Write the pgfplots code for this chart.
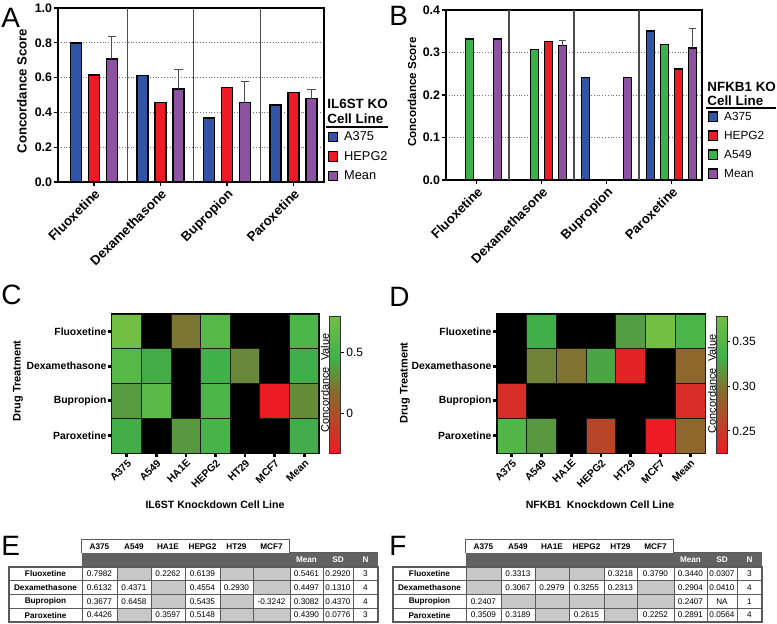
\documentclass[border=0pt]{standalone}
\usepackage{fontspec}
\setmainfont{Liberation Sans}
\usepackage{pgfplots}
\pgfplotsset{compat=1.18}

\definecolor{cblue}{RGB}{50,84,164}
\definecolor{cred}{RGB}{237,28,36}
\definecolor{cgreen}{RGB}{58,178,74}
\definecolor{cpurple}{RGB}{142,82,162}
\definecolor{band}{RGB}{98,98,98}
\definecolor{cellgray}{RGB}{200,200,200}
\definecolor{tline}{RGB}{90,90,90}

\newcommand\fs[1]{\fontsize{#1}{#1}\selectfont}
\newcommand\tabbf{\bfseries\fs{4.1bp}}
\newcommand\tabrm{\fs{4.1bp}}

\pgfdeclareplotmark{cellC}{\pgfpathrectangle{\pgfqpoint{-7.393bp}{-8.6875bp}}{\pgfqpoint{14.786bp}{17.375bp}}\pgfusepathqfillstroke}
\pgfdeclareplotmark{cellD}{\pgfpathrectangle{\pgfqpoint{-7.4286bp}{-8.6875bp}}{\pgfqpoint{14.857bp}{17.375bp}}\pgfusepathqfillstroke}

\def\gc{G}
\newcommand\trow[4]{%
  \pgfmathsetmacro\ya{567+13.75*#2}%
  \pgfmathsetmacro\yb{\ya+13.75}%
  \pgfmathsetmacro\ym{\ya+6.875}%
  \draw[tline, line width=0.4bp] (#1+9,\ya) rectangle (#1+82,\yb);
  \node[font=\tabbf] at (#1+45.5,\ym) {#3};
  \foreach \hv [count=\hc from 0] in {#4} {%
    \pgfmathsetmacro\xa{{82,117,151,185,220,253,290,323,353}[\hc]+#1}%
    \pgfmathsetmacro\xb{{117,151,185,220,253,290,323,353,378}[\hc]+#1}%
    \edef\tmp{\hv}%
    \ifx\tmp\gc
      \fill[cellgray] (\xa,\ya) rectangle (\xb,\yb);
    \else
      \node[font=\tabrm] at ({(\xa+\xb)/2},\ym) {\hv};
    \fi
    \draw[tline, line width=0.4bp] (\xa,\ya) rectangle (\xb,\yb);
  }%
}
\newcommand\thead[1]{%
  \fill[band] (#1+82,553) rectangle (#1+378,567);
  \draw[tline, line width=0.5bp] (#1+82,553) -- (#1+82,540) -- (#1+290,540) -- (#1+290,553);
  \draw[tline, line width=0.5bp] (#1+290,553) -- (#1+378,553);
  \foreach \hv [count=\hc from 0] in {A375,A549,HA1E,HEPG2,HT29,MCF7} {%
    \pgfmathsetmacro\xa{{82,117,151,185,220,253}[\hc]+#1}%
    \pgfmathsetmacro\xb{{117,151,185,220,253,290}[\hc]+#1}%
    \node[font=\tabbf] at ({(\xa+\xb)/2},546.5) {\hv};
  }%
  \node[font=\tabbf, text=white] at (#1+306.5,560) {Mean};
  \node[font=\tabbf, text=white] at (#1+338,560) {SD};
  \node[font=\tabbf, text=white] at (#1+365.5,560) {N};
}

\pgfplotsset{
  barbase/.style={
    scale only axis,
    tick pos=left, tick align=outside, major tick length=2bp,
    tick style={black, line width=0.6bp},
    axis line style={black, line width=0.6bp},
    xtick={0,1,2,3}, xticklabels={Fluoxetine,Dexamethasone,Bupropion,Paroxetine},
    /pgf/number format/assume math mode=true,
    yticklabel style={font=\bfseries\fs{6.2bp}, inner xsep=0.8bp, /pgf/number format/.cd, fixed, fixed zerofill, precision=1},
    xticklabel style={rotate=45, anchor=north east, inner sep=0.6bp, font=\bfseries\fs{6.6bp}},
    ymajorgrids, major grid style={densely dotted, black!55, line width=0.5bp},
    extra x ticks={0.5,1.5,2.5}, extra x tick labels={},
    extra x tick style={grid=major, major grid style={solid, black!70, line width=0.6bp}, major tick length=0pt},
    legend cell align=left,
    legend image code/.code={\draw[#1, line width=0.6bp] (0bp,-2.4bp) rectangle (4.5bp,2.4bp);},
  },
  errbase/.style={
    draw=none, mark=none, forget plot,
    error bars/.cd, y dir=plus, y explicit, error mark=-,
    error bar style={draw=black!70, line width=0.5bp},
    error mark options={rotate=90, draw=black!70, line width=0.5bp, mark size=#1},
  },
  heatbase/.style={
    scale only axis, height=69.5bp,
    xmin=-0.5, xmax=6.5, ymin=-0.5, ymax=3.5, y dir=reverse,
    axis background/.style={fill=black}, axis on top,
    xtick={0,...,6}, xticklabels={A375,A549,HA1E,HEPG2,HT29,MCF7,Mean},
    ytick={0,...,3}, yticklabels={Fluoxetine,Dexamethasone,Bupropion,Paroxetine},
    tick pos=left, tick align=outside, major tick length=1.8bp,
    tick style={black, line width=1.4bp},
    ticklabel style={font=\bfseries\fs{5.2bp}},
    xticklabel style={rotate=45, anchor=north east, inner sep=0.6bp},
    yticklabel style={inner sep=0.8bp},
    axis line style={black, line width=0.7bp},
    colormap={concord}{rgb255(0cm)=(237,28,36); rgb255(4.5cm)=(135,108,45); rgb255(7cm)=(62,178,74); rgb255(10cm)=(114,191,68)},
    colorbar,
  },
  cbase/.style={
    anchor=north west, width=5.5bp, height=68.5bp, scale only axis,
    tick align=outside, major tick length=1.5bp, tick style={black, line width=0.5bp},
    ytick pos=right, yticklabel pos=right,
    axis line style={black!80, line width=0.5bp},
    /pgf/number format/assume math mode=true,
    yticklabel style={font=\fs{6bp}, inner sep=1bp},
  },
}

\begin{document}
\begin{tikzpicture}
\useasboundingbox (0,0) rectangle (388.5bp,-312bp);

% ---------------- Panel A ----------------
\begin{axis}[barbase,
  at={(29bp,-91bp)}, anchor=south west, width=133bp, height=87bp,
  xmin=-0.54, xmax=3.46, ymin=0, ymax=1,
  ytick={0,0.2,0.4,0.6,0.8,1.0},
  legend style={at={(1.015,0.292)}, anchor=north west, draw=none, fill=none, inner sep=0pt, outer sep=0pt,
    row sep=3.95bp, font=\fs{6.4bp}, nodes={inner sep=0pt, text height=4.8bp, text depth=1.0bp},
    /tikz/every odd column/.append style={column sep=3bp}},
]
\addplot[ybar, bar width=5.5bp, bar shift=-9bp, fill=cblue, draw=black, line width=0.7bp]
  coordinates {(0,0.7982) (1,0.6132) (2,0.3677) (3,0.4426)};
\addlegendentry{A375}
\addplot[ybar, bar width=5.5bp, bar shift=0bp, fill=cred, draw=black, line width=0.7bp]
  coordinates {(0,0.6139) (1,0.4554) (2,0.5435) (3,0.5148)};
\addlegendentry{HEPG2}
\addplot[ybar, bar width=5.5bp, bar shift=9bp, fill=cpurple, draw=black, line width=0.7bp]
  coordinates {(0,0.7061) (1,0.5343) (2,0.4556) (3,0.4787)};
\addlegendentry{Mean}
% error bars of the mean, at the mean bars' x (shift 9bp = 0.2707 units)
\addplot[errbase=2.2bp]
  coordinates {(0.2707,0.7061) +- (0,0.1303) (1.2707,0.5343) +- (0,0.1116) (2.2707,0.4556) +- (0,0.1243) (3.2707,0.4787) +- (0,0.0511)};
\end{axis}

% ---------------- Panel B ----------------
\begin{axis}[barbase,
  at={(223bp,-90bp)}, anchor=south west, width=128bp, height=85bp,
  xmin=-0.47, xmax=3.47, ymin=0, ymax=0.4,
  ytick={0,0.1,0.2,0.3,0.4},
  legend style={at={(1.0234,0.403)}, anchor=north west, draw=none, fill=none, inner sep=0pt, outer sep=0pt,
    row sep=4.1bp, font=\fs{5.9bp}, nodes={inner sep=0pt, text height=4.4bp, text depth=1.0bp},
    /tikz/every odd column/.append style={column sep=3bp}},
]
\addplot[ybar, bar width=4bp, bar shift=-10.5bp, fill=cblue, draw=black, line width=0.7bp]
  coordinates {(2,0.2407) (3,0.3509)};
\addlegendentry{A375}
\addplot[ybar, bar width=4bp, bar shift=3.5bp, fill=cred, draw=black, line width=0.7bp]
  coordinates {(1,0.3255) (3,0.2615)};
\addlegendentry{HEPG2}
\addplot[ybar, bar width=4bp, bar shift=-3.5bp, fill=cgreen, draw=black, line width=0.7bp]
  coordinates {(0,0.3313) (1,0.3067) (3,0.3189)};
\addlegendentry{A549}
\addplot[ybar, bar width=4bp, bar shift=10.5bp, fill=cpurple, draw=black, line width=0.7bp]
  coordinates {(0,0.3313) (1,0.3161) (2,0.2407) (3,0.3104)};
\addlegendentry{Mean}
% error bars of the mean (shift 10.5bp = 0.3232 units)
\addplot[errbase=1.8bp]
  coordinates {(1.3232,0.3161) +- (0,0.0133) (3.3232,0.3104) +- (0,0.0453)};
\end{axis}

% ---------------- Panel C ----------------
\begin{axis}[heatbase,
  at={(56bp,-226.5bp)}, anchor=south west, width=103.5bp,
  point meta min=-0.3242, point meta max=0.7982,
  colorbar style={cbase, at={(1.0531,0.9856)}, ytick={0,0.5}},
]
\addplot[scatter, only marks, mark=cellC, point meta=explicit,
  scatter/use mapped color={draw=black!90, fill=mapped color}, mark options={line width=0.5bp}]
  coordinates {
  (0,0) [0.7982] (2,0) [0.2262] (3,0) [0.6139] (6,0) [0.5461]
  (0,1) [0.6132] (1,1) [0.4371] (3,1) [0.4554] (4,1) [0.2930] (6,1) [0.4497]
  (0,2) [0.3677] (1,2) [0.6458] (3,2) [0.5435] (5,2) [-0.3242] (6,2) [0.3082]
  (0,3) [0.4426] (2,3) [0.3597] (3,3) [0.5148] (6,3) [0.4390]
  };
\end{axis}

% ---------------- Panel D ----------------
\begin{axis}[heatbase,
  at={(248.5bp,-226.5bp)}, anchor=south west, width=104bp,
  point meta min=0.2252, point meta max=0.3790,
  colorbar style={cbase, at={(1.0529,0.9856)}, ytick={0.25,0.30,0.35},
    yticklabel style={/pgf/number format/.cd, fixed, fixed zerofill, precision=2}},
]
\addplot[scatter, only marks, mark=cellD, point meta=explicit,
  scatter/use mapped color={draw=black!90, fill=mapped color}, mark options={line width=0.5bp}]
  coordinates {
  (1,0) [0.3313] (4,0) [0.3218] (5,0) [0.3790] (6,0) [0.3440]
  (1,1) [0.3067] (2,1) [0.2979] (3,1) [0.3255] (4,1) [0.2313] (6,1) [0.2904]
  (0,2) [0.2407] (6,2) [0.2407]
  (0,3) [0.3509] (1,3) [0.3189] (3,3) [0.2615] (5,3) [0.2252] (6,3) [0.2891]
  };
\end{axis}

% ---------------- texts and tables (pixel units) ----------------
\begin{scope}[x=0.5bp, y=-0.5bp]
  % panel letters
  \node[anchor=base west, inner sep=0pt, font=\fs{14bp}] at (1,27) {A};
  \node[anchor=base west, inner sep=0pt, font=\fs{14bp}] at (389,25) {B};
  \node[anchor=base west, inner sep=0pt, font=\fs{14bp}] at (1,305) {C};
  \node[anchor=base west, inner sep=0pt, font=\fs{14bp}] at (389,307) {D};
  \node[anchor=base west, inner sep=0pt, font=\fs{14bp}] at (1,556) {E};
  \node[anchor=base west, inner sep=0pt, font=\fs{14bp}] at (389,556) {F};
  % y labels
  \node[rotate=90, font=\bfseries\fs{6.6bp}] at (22,91) {Concordance Score};
  \node[rotate=90, font=\bfseries\fs{5.8bp}] at (412,92) {Concordance Score};
  % legend titles
  \node[anchor=west, inner sep=0pt, font=\bfseries\fs{6.7bp}] at (327,104) {IL6ST KO};
  \node[anchor=west, inner sep=0pt, font=\bfseries\fs{6.7bp}] at (327,119) {Cell Line};
  \draw[black, line width=0.6bp] (326,127) -- (388,127);
  \node[anchor=west, inner sep=0pt, font=\bfseries\fs{6.7bp}] at (707,87) {NFKB1 KO};
  \node[anchor=west, inner sep=0pt, font=\bfseries\fs{6.7bp}] at (707,101) {Cell Line};
  \draw[black, line width=0.6bp] (706,108) -- (776,108);
  % heatmap labels
  \node[rotate=90, font=\bfseries\fs{5.5bp}] at (18,381) {Drug Treatment};
  \node[rotate=90, font=\bfseries\fs{5.5bp}] at (405,383) {Drug Treatment};
  \node[rotate=90, font=\fs{5.5bp}] at (325,383) {Concordance\ \ Value};
  \node[rotate=90, font=\fs{5.5bp}] at (712,384) {Concordance\ \ Value};
  \node[font=\bfseries\fs{5.3bp}] at (215,505) {IL6ST Knockdown Cell Line};
  \node[font=\bfseries\fs{5.3bp}] at (600,505) {NFKB1\ \ Knockdown Cell Line};
  % table E
  \thead{0}
  \trow{0}{0}{Fluoxetine}{0.7982,G,0.2262,0.6139,G,G,0.5461,0.2920,3}
  \trow{0}{1}{Dexamethasone}{0.6132,0.4371,G,0.4554,0.2930,G,0.4497,0.1310,4}
  \trow{0}{2}{Bupropion}{0.3677,0.6458,G,0.5435,G,-0.3242,0.3082,0.4370,4}
  \trow{0}{3}{Paroxetine}{0.4426,G,0.3597,0.5148,G,G,0.4390,0.0776,3}
  \draw[tline, line width=0.7bp] (9,567) rectangle (378,622);
  % table F
  \thead{384}
  \trow{384}{0}{Fluoxetine}{G,0.3313,G,G,0.3218,0.3790,0.3440,0.0307,3}
  \trow{384}{1}{Dexamethasone}{G,0.3067,0.2979,0.3255,0.2313,G,0.2904,0.0410,4}
  \trow{384}{2}{Bupropion}{0.2407,G,G,G,G,G,0.2407,NA,1}
  \trow{384}{3}{Paroxetine}{0.3509,0.3189,G,0.2615,G,0.2252,0.2891,0.0564,4}
  \draw[tline, line width=0.7bp] (393,567) rectangle (762,622);
\end{scope}
\end{tikzpicture}
\end{document}
